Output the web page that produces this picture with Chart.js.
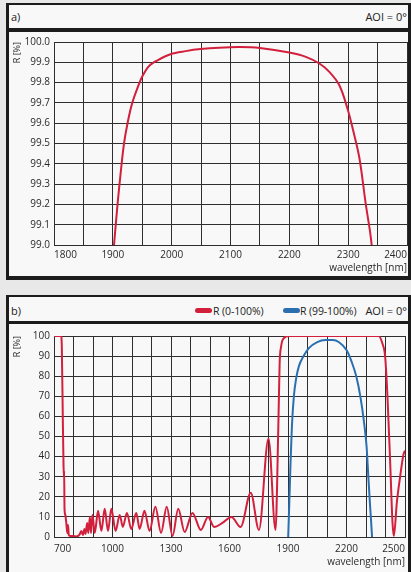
<!DOCTYPE html>
<html><head><meta charset="utf-8">
<script src="https://cdn.jsdelivr.net/npm/chart.js@4.4.1/dist/chart.umd.min.js"></script>
<style>
html,body{margin:0;padding:0;width:411px;height:572px;overflow:hidden;background:#e8e8e8;font-family:'Open Sans',sans-serif;color:#222;}
.panel{position:absolute;left:6px;width:405px;box-sizing:border-box;background:#f8f8f8;border-style:solid;border-color:#1c1c1c;}
#p1{top:3px;height:277px;border-width:2px 3px 4px 3px;}
#p2{top:295px;height:281px;border-width:2px 3px 4px 3px;}
.sep{position:absolute;left:6px;width:405px;background:#1c1c1c;}
.t{position:absolute;font-size:11px;line-height:14px;white-space:nowrap;}
.l{font-size:10.5px;letter-spacing:-0.1px;}
.sw{position:absolute;width:17px;height:5px;border-radius:3px;}
canvas{position:absolute;left:0;}
</style></head>
<body>
<div class="panel" id="p1"></div>
<div class="sep" style="top:28px;height:4px"></div>
<div class="panel" id="p2"></div>
<div class="sep" style="top:321px;height:3px"></div>
<span class="t" style="left:11px;top:10px">a)</span>
<span class="t" style="right:4px;top:10px">AOI = 0°</span>
<span class="t" style="left:11px;top:304px">b)</span>
<div class="sw" style="left:195px;top:308px;background:#d21f3c"></div>
<span class="t l" style="left:213px;top:304px">R (0-100%)</span>
<div class="sw" style="left:283px;top:308px;background:#2a6fb0"></div>
<span class="t l" style="left:300px;top:304px">R (99-100%)</span>
<span class="t" style="right:4px;top:304px">AOI = 0°</span>
<canvas id="c1" width="411" height="244" style="top:32px"></canvas>
<canvas id="c2" width="411" height="244" style="top:324px"></canvas>
<script>
// ---- data: panel a) ----
const topWl = [1902,1908,1913.5,1919,1925,1933,1944,1950,1961,1976,1998,2024,2049,2081,2116,2150,2200,2228,2251,2268,2285,2299,2308,2319,2330,2337,2340];
const topR  = [99.0,99.2,99.36,99.5,99.6,99.7,99.79,99.83,99.88,99.91,99.94,99.955,99.965,99.972,99.975,99.97,99.948,99.927,99.894,99.853,99.787,99.67,99.57,99.43,99.2,99.07,99.0];
const topXGrid = [1800,1850,1900,1950,2000,2050,2100,2150,2200,2250,2300,2350,2400];
const topXLabels = [1800,1900,2000,2100,2200,2300,2400];
const topYTicks = [99.0,99.1,99.2,99.3,99.4,99.5,99.6,99.7,99.8,99.9,100.0];

// ---- data: panel b) ----
const redWl = [700,725,736,740,745,749,751,752,754,758,763,768,772,776,785,800,815,830,840,848,856,862,870,876,884,890,897,909,926,943,960,977,994,1016,1037,1053,1074,1096,1122,1139,1164,1190,1220,1249,1278,1308,1337,1370,1410,1453,1490,1521,1564,1610,1657,1709,1751,1800,1836,1850,1857,1865,1879,1904,2000,2100,2200,2300,2365,2385,2398,2410,2424,2436,2443,2458,2475,2492,2500];
const redR  = [100,100,100,95,60,35,30,33,14,11,7,2,6,1,0.5,0.5,0.3,1,3,1,4,1.5,7,2,10,2,11,2,13,3,14,3,14,3,11,5,12,4,12,4,13,3,15,2,15,0.5,14,2.5,12,3.5,10,5,7,10,5,22,3.5,49,3.5,53,86,95,99,100,100,100,100,100,100,96,90,70,37,7,0.5,17,30,41,43];
const blueWl = [1901,1907,1913,1920,1930,1942,1956,1980,2007,2050,2092,2130,2160,2200,2227,2250,2271,2290,2303,2312,2320,2326,2331];
const blueR  = [0,18,37,55,70,79,85,90,94,97,98,98,97,93,87,80,70,57,45,30,17,8,0];
const botXGrid = [700,800,900,1000,1100,1200,1300,1400,1500,1600,1700,1800,1900,2000,2100,2200,2300,2400,2500];
const botXLabels = [700,1000,1300,1600,1900,2200,2500];
const botYTicks = [0,10,20,30,40,50,60,70,80,90,100];

const RED = '#d21f3c', BLUE = '#2a6fb0', GRID = '#2e2e2e', TXT = '#2a2a2a';
const FONT = {family:"'Open Sans', sans-serif", size:10};
const pts = (xs, ys) => xs.map((x, i) => ({x: x, y: ys[i]}));
const line = (d, c, smooth) => Object.assign({data: d, borderColor: c, borderWidth: 2, pointRadius: 0, fill: false},
  smooth ? {tension: 0.35} : {cubicInterpolationMode: 'monotone'});

function makeChart(id, datasets, xr, xGrid, xLabels, yr, yTicks, yFmt, o) {
  return new Chart(document.getElementById(id), {
    type: 'line',
    data: {datasets: datasets},
    options: {
      responsive: false, animation: false, devicePixelRatio: 1,
      plugins: {legend: {display: false}, tooltip: {enabled: false}},
      layout: {padding: {left: 0, right: 4, top: o.top, bottom: 0}},
      scales: {
        x: {
          type: 'linear', min: xr[0], max: xr[1],
          afterBuildTicks: s => { s.ticks = xGrid.map(v => ({value: v})); },
          afterFit: s => { s.height = o.xh; },
          ticks: {autoSkip: false, maxRotation: 0, minRotation: 0, align: 'inner', padding: o.xpad, font: FONT, color: TXT,
                  callback: v => xLabels.includes(v) ? String(v) : ''},
          grid: {color: GRID, lineWidth: 1, drawTicks: false},
          border: {color: GRID, width: 1},
          title: {display: true, text: 'wavelength [nm]', align: 'end', font: FONT, color: TXT, padding: {top: 0, bottom: o.tpad}}
        },
        y: {
          min: yr[0], max: yr[1],
          afterBuildTicks: s => { s.ticks = yTicks.map(v => ({value: v})); },
          afterFit: s => { s.width = 54; },
          ticks: {autoSkip: false, padding: 4, font: FONT, color: TXT, callback: yFmt},
          grid: {color: GRID, lineWidth: 1, drawTicks: false},
          border: {color: GRID, width: 1},
          title: {display: true, text: 'R [%]', align: 'end', font: {family: FONT.family, size: 9}, color: TXT, padding: {top: 12, bottom: 0}}
        }
      }
    }
  });
}

makeChart('c1', [line(pts(topWl, topR), RED, true)], [1800, 2400], topXGrid, topXLabels,
  [99, 100], topYTicks, v => Number(v).toFixed(1), {top: 10, xh: 31, xpad: 4, tpad: 2});

makeChart('c2', [line(pts(redWl, redR), RED, false), line(pts(blueWl, blueR), BLUE, false)], [700, 2500], botXGrid, botXLabels,
  [0, 100], botYTicks, v => String(v), {top: 12, xh: 31, xpad: 6, tpad: 0});
</script>
</body></html>
